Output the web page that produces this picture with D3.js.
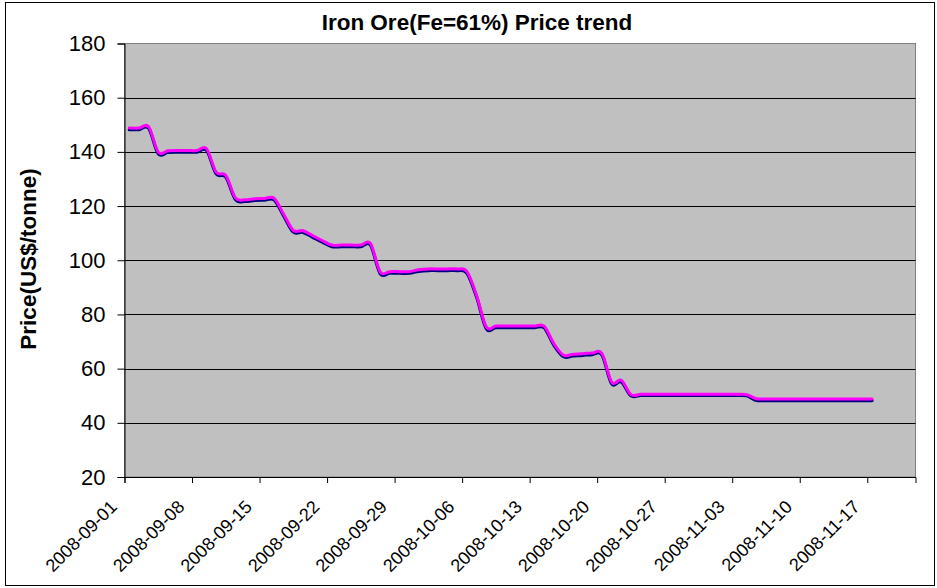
<!DOCTYPE html>
<html>
<head>
<meta charset="utf-8">
<script src="https://cdn.jsdelivr.net/npm/d3@7"></script>
<style>
  body { margin: 0; background: #ffffff; }
  text { font-family: Arial, "Liberation Sans", sans-serif; }
</style>
</head>
<body>
<div id="chart-container"></div>
<script>
const width = 937;
const height = 588;
const marginTop = 43.5;
const marginRight = 21.5;
const marginBottom = 111;
const marginLeft = 124.5;

// daily prices from 2008-09-01 to 2008-11-17
const firstDay = "2008-09-01";
const lastDay = "2008-11-17";
const axisEnd = "2008-11-22";

const magentaPrices = [
  148.8, 148.8, 149.3, 139.9, 140.4, 140.5, 140.5, 140.5, 141.2, 132.5,
  131.3, 123.0, 122.3, 122.7, 122.8, 122.9, 117.0, 111.0, 110.9, 109.1,
  107.3, 105.6, 105.6, 105.6, 105.6, 106.2, 95.7, 95.8, 95.8, 95.8,
  96.5, 96.8, 96.8, 96.8, 96.8, 95.8, 87.0, 75.4, 75.7, 75.7,
  75.7, 75.7, 75.7, 75.7, 69.3, 65.0, 65.3, 65.5, 65.8, 65.6,
  55.0, 55.7, 50.4, 50.5, 50.5, 50.5, 50.5, 50.5, 50.5, 50.5,
  50.5, 50.5, 50.5, 50.5, 50.4, 48.9, 48.8, 48.8, 48.8, 48.8,
  48.8, 48.8, 48.8, 48.8, 48.8, 48.8, 48.8, 48.8
];
const bluePrices = [
  148.2, 148.2, 148.7, 139.3, 139.8, 139.9, 139.9, 139.9, 140.6, 131.9,
  130.7, 122.4, 121.7, 122.1, 122.2, 122.3, 116.4, 110.4, 110.3, 108.5,
  106.7, 105.0, 105.0, 105.0, 105.0, 105.6, 95.1, 95.2, 95.2, 95.2,
  95.9, 96.2, 96.2, 96.2, 96.2, 95.2, 86.4, 74.8, 75.1, 75.1,
  75.1, 75.1, 75.1, 75.1, 68.7, 64.4, 64.7, 64.9, 65.2, 65.0,
  54.4, 55.1, 50.0, 50.1, 50.1, 50.1, 50.1, 50.1, 50.1, 50.1,
  50.1, 50.1, 50.1, 50.1, 50.0, 48.3, 48.2, 48.2, 48.2, 48.2,
  48.2, 48.2, 48.2, 48.2, 48.2, 48.2, 48.2, 48.2
];

const tickDates = [
  "2008-09-01", "2008-09-08", "2008-09-15", "2008-09-22", "2008-09-29", "2008-10-06",
  "2008-10-13", "2008-10-20", "2008-10-27", "2008-11-03", "2008-11-10", "2008-11-17"
];
const yTicks = [20, 40, 60, 80, 100, 120, 140, 160, 180];

const parse = d3.utcParse("%Y-%m-%d");
const days = d3.utcDay.range(parse(firstDay), d3.utcDay.offset(parse(lastDay), 1));

const svg = d3.select("#chart-container")
    .append("svg")
    .attr("width", width)
    .attr("height", height)
    .style("background-color", "#ffffff");

// outer chart border
svg.append("rect")
    .attr("x", 5.5).attr("y", 2.5)
    .attr("width", 929).attr("height", 583)
    .attr("fill", "#ffffff")
    .attr("stroke", "#000000");

const x = d3.scaleUtc()
    .domain([parse(firstDay), parse(axisEnd)])
    .range([marginLeft, width - marginRight]);

const y = d3.scaleLinear()
    .domain([20, 180])
    .range([height - marginBottom, marginTop]);

// plot area
svg.append("rect")
    .attr("x", marginLeft).attr("y", marginTop)
    .attr("width", width - marginRight - marginLeft)
    .attr("height", height - marginBottom - marginTop)
    .attr("fill", "#c0c0c0")
    .attr("stroke", "#808080");

// gridlines
svg.append("g")
    .selectAll("line")
    .data(yTicks.slice(1, -1))
    .join("line")
    .attr("x1", marginLeft).attr("x2", width - marginRight)
    .attr("y1", d => Math.round(y(d)) + 0.5).attr("y2", d => Math.round(y(d)) + 0.5)
    .attr("stroke", "#000000");

// y axis
const yAxis = svg.append("g")
    .attr("transform", `translate(${marginLeft},0)`)
    .call(d3.axisLeft(y).tickValues(yTicks).tickSize(7).tickPadding(12));
yAxis.select(".domain").attr("stroke", "#000000");
yAxis.selectAll(".tick line").attr("stroke", "#000000");
yAxis.selectAll(".tick text")
    .attr("font-size", "22px")
    .attr("fill", "#000000")
    .attr("font-family", "Arial, 'Liberation Sans', sans-serif");

// x axis
const xAxis = svg.append("g")
    .attr("transform", `translate(0,${height - marginBottom})`)
    .call(d3.axisBottom(x)
        .tickValues(tickDates.map(parse))
        .tickSize(6)
        .tickFormat(d3.utcFormat("%Y-%m-%d")));
xAxis.select(".domain").attr("stroke", "#000000");
xAxis.selectAll(".tick line").attr("stroke", "#000000");
xAxis.selectAll(".tick text")
    .attr("font-size", "18px")
    .attr("fill", "#000000")
    .attr("font-family", "Arial, 'Liberation Sans', sans-serif")
    .attr("text-anchor", "end")
    .attr("dy", null)
    .attr("y", null)
    .attr("transform", "translate(-7,31) rotate(-45)");

// smoothed price lines, points at the middle of each day
const line = values => d3.line()
    .x((d, i) => x(d3.utcHour.offset(days[i], 12)))
    .y(d => y(d))
    .curve(d3.curveCatmullRom.alpha(0))(values);

svg.append("path")
    .attr("d", line(bluePrices))
    .attr("fill", "none")
    .attr("stroke", "#000080")
    .attr("stroke-width", 3.2)
    .attr("stroke-linejoin", "round")
    .attr("stroke-linecap", "round");

svg.append("path")
    .attr("d", line(magentaPrices))
    .attr("fill", "none")
    .attr("stroke", "#ff00ff")
    .attr("stroke-width", 3)
    .attr("stroke-linejoin", "round")
    .attr("stroke-linecap", "round");

// title
svg.append("text")
    .attr("x", 477)
    .attr("y", 30)
    .attr("text-anchor", "middle")
    .attr("font-size", "22.5px")
    .attr("font-weight", "bold")
    .text("Iron Ore(Fe=61%) Price trend");

// y axis title
svg.append("text")
    .attr("transform", `translate(36,259) rotate(-90)`)
    .attr("text-anchor", "middle")
    .attr("font-size", "22.5px")
    .attr("font-weight", "bold")
    .text("Price(US$/tonne)");
</script>
</body>
</html>
